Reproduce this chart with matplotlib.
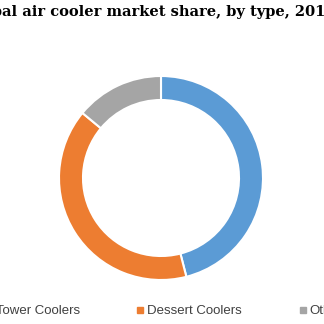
import matplotlib
matplotlib.use("Agg")
import matplotlib.pyplot as plt
from matplotlib.lines import Line2D

categories = ["Tower Coolers", "Dessert Coolers", "Others"]
shares = [46, 40, 14]
colors = ["#5B9BD5", "#ED7D31", "#A5A5A5"]
title = "Global air cooler market share, by type, 2018"

fig = plt.figure(figsize=(3.24, 3.24), dpi=100)
fig.patch.set_facecolor("white")

# donut axes: center (161,178) px, outer radius ~102 px
cx, cy, r = 161, 178, 102
ax = fig.add_axes([(cx - r) / 324, (324 - cy - r) / 324, 2 * r / 324, 2 * r / 324])
ax.pie(shares, colors=colors, startangle=90, counterclock=False, radius=1.0,
       wedgeprops=dict(width=24 / 102, edgecolor="white", linewidth=1.5))
ax.set_xlim(-1, 1)
ax.set_ylim(-1, 1)
ax.set_aspect("equal")
ax.axis("off")

fig.text(150 / 324, 1 - 16 / 324, title, ha="center", va="baseline",
         fontsize=10.5, fontweight="bold", family="DejaVu Serif")

handles = [Line2D([0], [0], marker="s", linestyle="none", markersize=3.8,
                  markerfacecolor=c, markeredgecolor=c) for c in colors]
fig.legend(handles, categories, loc="center", bbox_to_anchor=(167 / 324, 1 - 311 / 324),
           ncol=3, frameon=False, prop=dict(family="Liberation Sans", size=9.5),
           handlelength=0.6, handletextpad=0.2, columnspacing=4.3,
           labelcolor="#404040")

fig.savefig("out.png", dpi=100, facecolor="white")
